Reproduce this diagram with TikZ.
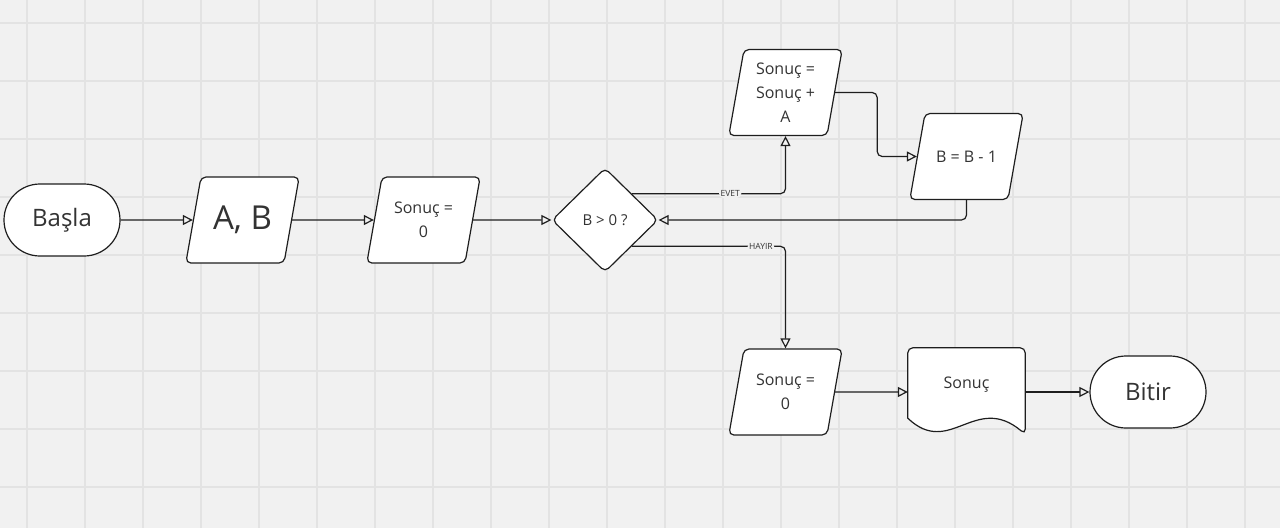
\documentclass[tikz,border=0pt]{standalone}
\usepackage{fontspec}
\setmainfont{Open Sans}
\usetikzlibrary{shapes.geometric,arrows.meta,calc}
\definecolor{board}{HTML}{F1F1F1}
\definecolor{gridline}{HTML}{E3E3E3}
\definecolor{ink}{HTML}{1E1E1E}
\definecolor{textgray}{HTML}{333333}
\newcommand{\iotext}[1]{\parbox[c][84pt][c]{81pt}{\centering #1}}
\tikzset{
    start-stop/.style = {draw=ink, fill=white, line width=1.2pt, rectangle, rounded corners=36pt, minimum width=116pt, minimum height=72pt, text=textgray, font=\fontsize{24}{28}\selectfont},
    io-box/.style = {draw=ink, fill=white, line width=1.2pt, trapezium, trapezium left angle=80, trapezium right angle=100, rounded corners=5pt, inner sep=1pt, text=textgray, font=\fontsize{16}{24}\selectfont},
    decision-box/.style = {draw=ink, fill=white, line width=1.2pt, diamond, minimum width=106pt, minimum height=104pt, inner sep=0pt, rounded corners=5pt, text=textgray, font=\fontsize{15}{18}\selectfont},
    doc-box/.style = {rectangle, minimum width=117pt, minimum height=88pt, inner sep=0pt},
    doc-text/.style = {text=textgray, font=\fontsize{16}{20}\selectfont},
    flow-arrow/.style = {draw=ink, line width=1.2pt, rounded corners=5pt, -{Triangle[open, length=10pt, width=10pt]}},
    flow-label/.style = {fill=board, inner sep=1.5pt, text=textgray, font=\fontsize{8.5}{9}\selectfont},
}
\begin{document}
\begin{tikzpicture}[x=1pt, y=-1pt]
% board with grid
\fill[board] (0,0) rectangle (1280,528);
\useasboundingbox (0,0) rectangle (1280,528);
\foreach \x in {27,85,...,1270} \draw[gridline, line width=1.3pt] (\x,0) -- (\x,528);
\foreach \y in {23,81,...,520} \draw[gridline, line width=1.3pt] (0,\y) -- (1280,\y);

% nodes
\node[start-stop] (start) at (62,220) {Başla};
\node[io-box, font=\fontsize{33}{36}\selectfont] (input) at (242.5,220) {\iotext{A, B}};
\node[io-box] (init) at (423.5,220) {\iotext{Sonuç =\\0}};
\node[decision-box] (check) at (605,220) {B > 0 ?};
\node[io-box] (add) at (785.5,92.5) {\iotext{Sonuç =\\Sonuç +\\A}};
\node[io-box] (dec) at (966.5,156.5) {\iotext{B = B - 1}};
\node[io-box] (reset) at (785.5,392) {\iotext{Sonuç =\\0}};
\node[doc-box] (result) at (966.5,392) {};
\node[start-stop] (stop) at (1148,392) {Bitir};

% document outline
\draw[draw=ink, fill=white, line width=1.2pt, rounded corners=5pt]
    ($(result.south west)+(0,-18)$) -- (result.north west) -- (result.north east) -- ($(result.south east)+(0,-2)$) [sharp corners]
    .. controls ($(result.south east)+(-50,-44)$) and ($(result.south west)+(42,22)$) .. ($(result.south west)+(0,-18)$) -- cycle;
\node[doc-text] (result-text) at ($(result.center)+(0,-7)$) {Sonuç};

% connectors
\draw[flow-arrow] (start) -- (input);
\draw[flow-arrow] (input) -- (init);
\draw[flow-arrow] (init) -- (check);
\draw[flow-arrow] (check.north east) -| node[flow-label, pos=0.32] {EVET} (add.south);
\draw[flow-arrow] (add.east) -- ++(42,0) |- (dec.west);
\draw[flow-arrow] (dec.south) |- (check.east);
\draw[flow-arrow] (check.south east) -| node[flow-label, pos=0.42] {HAYIR} (reset.north);
\draw[flow-arrow] (reset) -- (result.west);
\draw[flow-arrow] (result.east) -- (stop);
\end{tikzpicture}
\end{document}
